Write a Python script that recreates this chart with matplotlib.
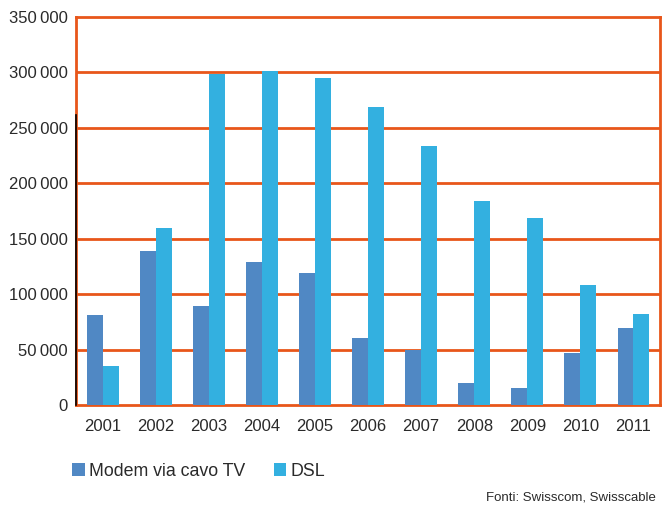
import numpy as np
import matplotlib
matplotlib.use("Agg")
from matplotlib import pyplot as plt

years = ["2001", "2002", "2003", "2004", "2005", "2006", "2007", "2008", "2009", "2010", "2011"]
modem = [81000, 139000, 89000, 129000, 119000, 60000, 50000, 19500, 15500, 46500, 69500]
dsl = [35000, 160000, 299000, 301000, 295000, 269000, 234000, 184000, 169000, 108000, 82000]
yticks = [0, 50000, 100000, 150000, 200000, 250000, 300000, 350000]

orange = "#E8561A"
c_modem = "#5088C4"
c_dsl = "#33B0E0"

plt.rcParams['font.family'] = ['Liberation Sans', 'DejaVu Sans']

fig = plt.figure(figsize=(6.62, 5.11), dpi=100)
ax = fig.add_axes([0.115, 0.2074, 0.882, 0.7594])

x = np.arange(len(years))
w = 0.30
ax.bar(x - w / 2, modem, w, color=c_modem, label="Modem via cavo TV", zorder=3)
ax.bar(x + w / 2, dsl, w, color=c_dsl, label="DSL", zorder=3)

ax.set_xlim(-0.5, len(years) - 0.5)
ax.set_ylim(0, 350000)
ax.set_xticks(x)
ax.set_xticklabels(years)
ax.set_yticks(yticks)
ax.set_yticklabels(["0" if v == 0 else "{}\u2009{:03d}".format(v // 1000, v % 1000) for v in yticks])
ax.tick_params(length=0, labelsize=12, labelcolor="#2a2a2a")
ax.tick_params(axis="x", pad=10)
ax.tick_params(axis="y", pad=6)

for v in yticks[1:-1]:
    ax.axhline(v, color=orange, lw=2, zorder=1)
for s in ax.spines.values():
    s.set_color(orange)
    s.set_linewidth(2)
# black stub on the left edge
ax.plot([-0.5, -0.5], [0, 262000], color="black", lw=1.2, zorder=4, clip_on=False)

fig.legend(loc="lower left", bbox_to_anchor=(0.085, 0.03), ncol=2, frameon=False,
           fontsize=12.8, handlelength=0.7, handleheight=0.7, handletextpad=0.25,
           columnspacing=1.6, labelcolor="#2a2a2a")
fig.text(0.99, 0.015, "Fonti: Swisscom, Swisscable", ha="right", va="bottom",
         fontsize=9.5, color="#2a2a2a")

fig.savefig("out.png", dpi=100)
